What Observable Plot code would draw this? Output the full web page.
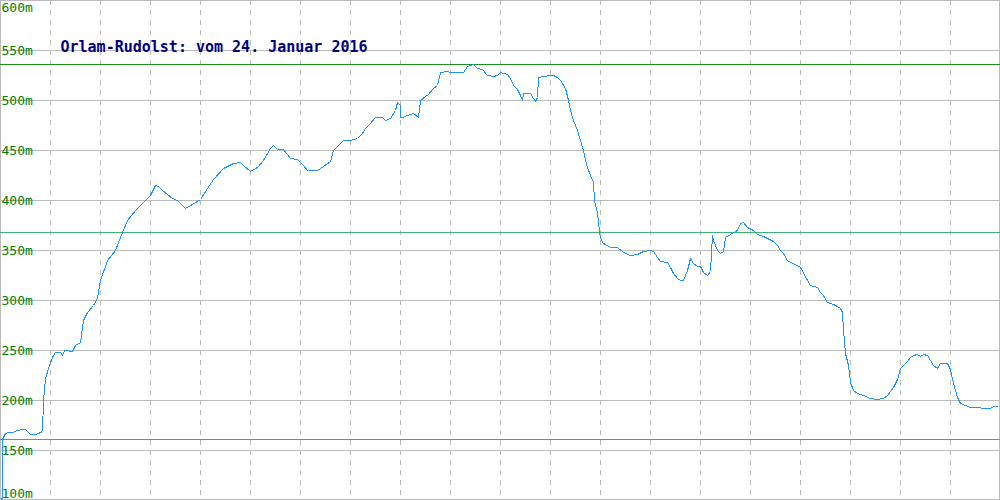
<!DOCTYPE html>
<html>
<head>
<meta charset="utf-8">
<script src="https://cdn.jsdelivr.net/npm/d3@7"></script>
<script src="https://cdn.jsdelivr.net/npm/@observablehq/plot@0.6"></script>
<style>
  html, body { margin: 0; padding: 0; background: #fff; }
  #chart svg { display: block; }
</style>
</head>
<body>
<div id="chart"></div>
<script>
const title = "Orlam-Rudolst: vom 24. Januar 2016";

// distance along route (chart units 0..1000)
const distance = [1.5,2,5,8,12,17,22,25,30,35,38,42,43,45,48,52,55,60,62,64,72,75,80,83,87,93,97,100,107,115,120,127,135,140,150,155,158,162,172,177,185,192,200,207,213,223,233,240,243,250,257,263,270,273,277,283,290,297,303,307,317,323,330,333,340,343,350,357,362,365,370,375,382,385,390,395,397,400,400,402,407,413,418,420,425,428,433,437,440,447,450,463,467,470,473,477,482,487,493,497,500,507,510,513,517,520,522,523,530,533,535,537,538,543,550,553,557,560,565,568,570,573,577,580,583,585,587,590,593,594,597,598,600,603,610,617,623,630,637,643,650,653,657,660,667,670,673,677,680,683,687,690,693,697,700,703,707,710,712,713,717,720,723,725,730,737,740,743,747,753,757,763,767,773,777,780,783,787,790,797,800,807,810,817,820,823,827,833,837,840,842,843,845,848,850,853,857,863,870,877,883,887,893,897,900,903,907,910,913,917,920,923,927,930,933,937,940,947,950,953,957,960,965,970,977,983,990,993,997];

// elevation in metres
const elevation = [100,161,167,168,168,170,171,171,166,166,167,169,200,222,232,243,248,248,245,250,249,255,258,280,288,295,302,320,340,350,363,380,390,395,405,415,414,410,402,400,392,396,401,412,421,432,437,438,435,429,433,440,452,455,451,451,442,441,435,430,430,434,439,450,457,460,460,462,467,472,477,483,483,480,482,490,498,495,483,483,485,487,483,500,504,506,512,515,528,529,528,528,534,535,536,532,531,525,524,525,528,526,522,515,511,505,500,507,507,502,499,503,523,524,525,525,523,520,512,500,490,480,470,460,450,440,433,425,418,400,387,378,362,357,353,353,348,345,346,349,350,349,343,339,338,333,327,322,320,320,330,342,337,334,334,328,325,329,365,360,350,347,349,363,366,370,377,378,373,370,366,364,362,359,355,350,347,340,338,335,333,320,315,313,308,305,298,296,294,292,288,270,247,235,218,210,207,205,202,201,202,205,213,221,232,235,239,243,245,246,244,246,245,240,235,232,237,237,231,217,203,197,195,193,193,192,192,194,194];

// reference levels: maximum, average, minimum
const refLevels = [536, 368, 161];
const refColors = ["#1f8f1f", "#3cb371", "#20b2aa"];

// axis ticks
const yTicks = [100,150,200,250,300,350,400,450,500,550,600];
const yLabels = ["100m","150m","200m","250m","300m","350m","400m","450m","500m","550m","600m"];
const xGrid = [50,100,150,200,250,300,350,400,450,500,550,600,650,700,750,800,850,900,950];

const profile = distance.map((d, i) => ({d, e: elevation[i]}));
const labels = yTicks.map((v, i) => ({v, t: yLabels[i]}));
const refs = refLevels.map((v, i) => ({v, c: refColors[i]}));

const grid = "#bbbbbb";
const font = "DejaVu Sans Mono";

const chart = Plot.plot({
  width: 1000,
  height: 500,
  margin: 0,
  x: {domain: [0, 1000], range: [0, 1000], axis: null},
  y: {domain: [100, 600], range: [500, 0], axis: null},
  style: {background: "#fff", fontFamily: font},
  marks: [
    Plot.ruleX(xGrid, {stroke: grid, strokeDasharray: "5,5"}),
    Plot.ruleY(yTicks.filter(v => v > 100), {stroke: grid}),
    Plot.ruleY([100], {stroke: grid, dy: -1}),
    Plot.ruleX([0], {stroke: grid}),
    Plot.ruleX([1000], {stroke: grid, dx: -1}),
    Plot.ruleY(refs, {y: "v", stroke: "c"}),
    Plot.line(profile, {x: "d", y: "e", stroke: "#1e90ff", strokeWidth: 1, clip: true, shapeRendering: "crispEdges"}),
    Plot.text(labels.filter(d => d.v > 100 && d.v < 600), {y: "v", text: "t", frameAnchor: "left", textAnchor: "start", dx: 1, lineAnchor: "middle", fill: "#008000", fontSize: 13}),
    Plot.text(labels.filter(d => d.v === 600), {y: "v", text: "t", frameAnchor: "left", textAnchor: "start", dx: 1, lineAnchor: "top", dy: 2, fill: "#008000", fontSize: 13}),
    Plot.text(labels.filter(d => d.v === 100), {y: "v", text: "t", frameAnchor: "left", textAnchor: "start", dx: 1, lineAnchor: "bottom", dy: -3, fill: "#008000", fontSize: 13}),
    Plot.text([title], {frameAnchor: "top-left", dx: 60, dy: 41, lineAnchor: "top", textAnchor: "start", fill: "#000080", fontSize: 15, fontWeight: "bold"})
  ]
});

document.getElementById("chart").appendChild(chart);
</script>
</body>
</html>
